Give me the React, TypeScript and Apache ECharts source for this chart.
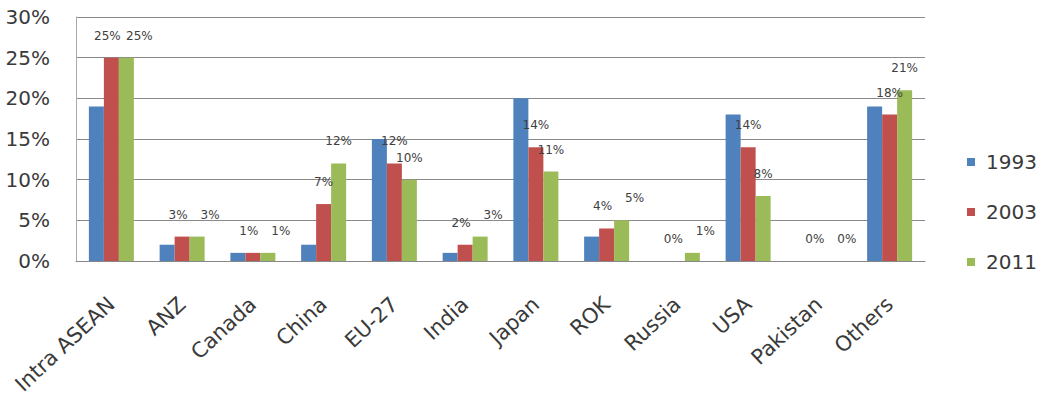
import React, { useEffect, useRef } from "react";
import * as echarts from "echarts";

const categories = ["Intra ASEAN", "ANZ", "Canada", "China", "EU-27", "India", "Japan", "ROK", "Russia", "USA", "Pakistan", "Others"];
const seriesNames = ["1993", "2003", "2011"];
const values1993 = [19, 2, 1, 2, 15, 1, 20, 3, 0, 18, 0, 19];
const values2003 = [25, 3, 1, 7, 12, 2, 14, 4, 0, 14, 0, 18];
const values2011 = [25, 3, 1, 12, 10, 3, 11, 5, 1, 8, 0, 21];
const yTicks = [0, 5, 10, 15, 20, 25, 30];

const colors = ["#4F81BD", "#C0504D", "#9BBB59"];
const FONT = "DejaVu Sans";

export default function App() {
  const ref = useRef<HTMLDivElement>(null);
  useEffect(() => {
    if (!ref.current) return;
    const chart = echarts.init(ref.current, undefined, { renderer: "svg" });
    const dataSets = [values1993, values2003, values2011];
    // when the 2003 and 2011 labels of a category would collide, push them apart
    const close = (idx: number) => Math.abs(values2003[idx] - values2011[idx]) <= 1;
    const layoutFor = (i: number) => (params: any) => {
      if (!close(params.dataIndex)) return {};
      return i === 1 ? { dx: -4 } : { dx: 13 };
    };
    chart.setOption({
      animation: false,
      backgroundColor: "#ffffff",
      grid: { left: 76, right: 120, top: 17, bottom: 140 },
      legend: {
        orient: "vertical",
        left: 962,
        top: 146,
        padding: 5,
        itemWidth: 8,
        itemHeight: 8,
        itemGap: 28,
        icon: "rect",
        data: seriesNames,
        textStyle: { fontFamily: FONT, fontSize: 20, color: "#3a3a3a", lineHeight: 22, padding: [0, 0, 0, 6] },
      },
      xAxis: {
        type: "category",
        data: categories,
        axisLine: { lineStyle: { color: "#888888" } },
        axisTick: { show: false },
        axisLabel: {
          rotate: 43,
          interval: 0,
          margin: 40,
          fontFamily: FONT,
          fontSize: 21,
          color: "#3a3a3a",
        },
      },
      yAxis: {
        type: "value",
        min: yTicks[0],
        max: yTicks[yTicks.length - 1],
        interval: 5,
        axisLine: { show: true, lineStyle: { color: "#b0a8a8" } },
        axisTick: { show: false },
        splitLine: { lineStyle: { color: "#8a8a8a" } },
        axisLabel: {
          formatter: "{value}%",
          margin: 26,
          fontFamily: FONT,
          fontSize: 20,
          color: "#3a3a3a",
        },
      },
      series: seriesNames.map((name, i) => ({
        name,
        type: "bar",
        data: dataSets[i],
        barWidth: 15,
        barGap: "0%",
        itemStyle: { color: colors[i] },
        labelLayout: i > 0 ? layoutFor(i) : undefined,
        label: {
          show: i > 0,
          position: "top",
          distance: 16,
          formatter: "{c}%",
          fontFamily: FONT,
          fontSize: 12,
          color: "#404040",
        },
      })),
    });
    return () => chart.dispose();
  }, []);
  return <div ref={ref} style={{ width: 1045, height: 401, position: "absolute", left: 0, top: 0 }} />;
}
